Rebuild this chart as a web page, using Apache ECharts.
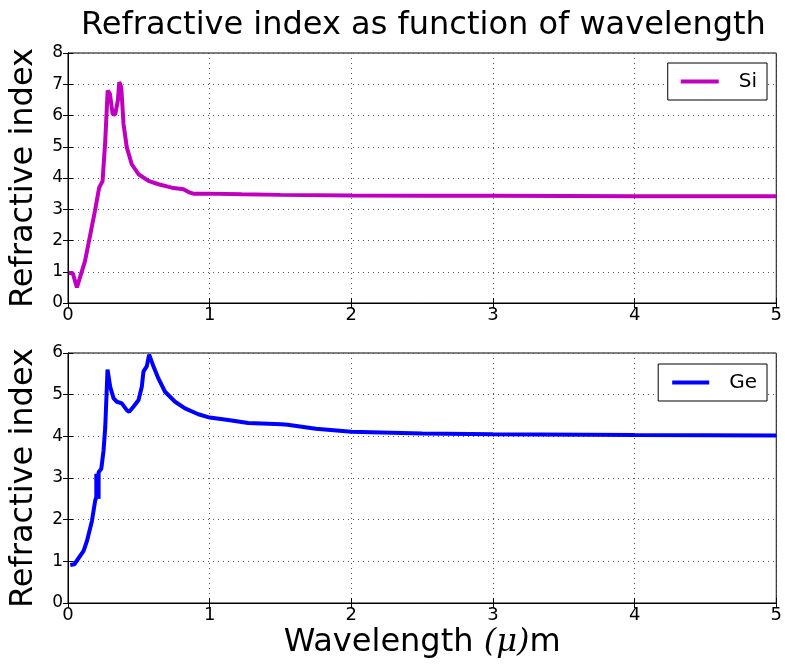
<!DOCTYPE html>
<html><head><meta charset="utf-8">
<script src="https://cdn.jsdelivr.net/npm/echarts@6/dist/echarts.min.js"></script>
<style>html,body{margin:0;padding:0;background:#fff}#c{width:785px;height:668px}</style>
</head><body><div id="c"></div>
<script>
const titleText = 'Refractive index as function of wavelength';
const xTicks = [0,1,2,3,4,5];
const siWavelength = [0.005,0.033,0.063,0.12,0.19,0.22,0.244,0.263,0.28,0.296,0.315,0.333,0.352,0.362,0.376,0.392,0.415,0.45,0.498,0.568,0.638,0.732,0.815,0.861,0.885,0.99,1.225,1.5,2,2.5,3,4,5];
const siIndex =      [0.96,0.96,0.5,1.34,2.94,3.69,3.9,5.19,6.8,6.69,6.05,6.03,6.48,7.07,6.9,5.73,4.98,4.44,4.12,3.91,3.8,3.69,3.64,3.53,3.5,3.5,3.48,3.46,3.44,3.43,3.43,3.42,3.42];
const geWavelength = [0.016,0.045,0.11,0.134,0.169,0.192,0.2,0.2,0.216,0.216,0.235,0.251,0.263,0.279,0.298,0.322,0.345,0.38,0.415,0.432,0.462,0.498,0.521,0.533,0.556,0.573,0.587,0.603,0.638,0.685,0.756,0.826,0.92,1.0,1.131,1.272,1.507,1.55,1.75,2,2.5,3,4,5];
const geIndex =      [0.91,0.93,1.25,1.49,1.97,2.46,2.54,3.1,2.5,3.14,3.22,3.66,4.23,5.6,5.19,4.91,4.83,4.79,4.63,4.59,4.71,4.87,5.19,5.56,5.68,5.96,5.96,5.68,5.39,5.07,4.83,4.67,4.53,4.45,4.39,4.32,4.29,4.28,4.18,4.11,4.07,4.05,4.03,4.02];
const siName = 'Si', geName = 'Ge';

const zip = (a,b) => a.map((v,i)=>[v,b[i]]);
const FONT = 'DejaVu Sans';
const grids = [
  {left:65, right:6, top:53, height:250, show:true, borderColor:'#000', borderWidth:1},
  {left:65, right:6, top:353, height:250, show:true, borderColor:'#000', borderWidth:1}
];
function xAx(gi, showLabel, pos){
  return {type:'value', gridIndex:gi, min:0, max:5, interval:1, position:pos,
    axisLine:{show:true, lineStyle:{color:'#000'}},
    axisTick:{show:true, inside:true, length:5, lineStyle:{color:'#000'}},
    axisLabel:{show:showLabel, color:'#000', fontSize:18, fontFamily:FONT, margin:3},
    splitLine:{show:pos==='bottom', lineStyle:{color:'#555', type:[1,4], width:1}},
    name: (gi===1 && pos==='bottom') ? '{a|Wavelength }{b|(μ)}{a|m}' : '',
    nameLocation:'middle', nameGap:24,
    nameTextStyle:{rich:{a:{fontSize:32, fontFamily:FONT, color:'#000'}, b:{fontSize:32, fontFamily:'DejaVu Serif', fontStyle:'italic', color:'#000'}}}
  };
}
function yAx(gi, max, showLabel, pos){
  return {type:'value', gridIndex:gi, min:0, max:max, interval:1, position:pos,
    axisLine:{show:true, lineStyle:{color:'#000'}},
    axisTick:{show:true, inside:true, length:5, lineStyle:{color:'#000'}},
    axisLabel:{show:showLabel, color:'#000', fontSize:17, fontFamily:FONT, margin:5},
    splitLine:{show:pos==='left', lineStyle:{color:'#555', type:[1,4], width:1}},
    name: pos==='left' ? 'Refractive index' : '', nameLocation:'middle', nameGap:28,
    nameTextStyle:{fontSize:32, fontFamily:FONT, color:'#000'}
  };
}
const chart = echarts.init(document.getElementById('c'));
chart.setOption({
  animation:false,
  backgroundColor:'#fff',
  title:{text:titleText, left:76, top:5, textStyle:{fontSize:32, fontWeight:'normal', fontFamily:FONT, color:'#000'}},
  grid:grids,
  xAxis:[xAx(0,true,'bottom'), xAx(0,false,'top'), xAx(1,true,'bottom'), xAx(1,false,'top')],
  yAxis:[yAx(0,8,true,'left'), yAx(0,8,false,'right'), yAx(1,6,true,'left'), yAx(1,6,false,'right')],
  legend:[
    {data:[siName], right:18, top:63, orient:'vertical', icon:'rect', itemWidth:38, itemHeight:4, itemGap:0,
     borderColor:'#000', borderWidth:1, borderRadius:0, padding:[7,10,7,13], backgroundColor:'#fff',
     textStyle:{fontSize:20, fontFamily:FONT, color:'#000', lineHeight:23, padding:[0,0,0,15]}},
    {data:[geName], right:18, top:364, orient:'vertical', icon:'rect', itemWidth:37, itemHeight:4, itemGap:0,
     borderColor:'#000', borderWidth:1, borderRadius:0, padding:[7,10,7,14], backgroundColor:'#fff',
     textStyle:{fontSize:20, fontFamily:FONT, color:'#000', lineHeight:23, padding:[0,0,0,15]}}
  ],
  series:[
    {name:siName, type:'line', xAxisIndex:0, yAxisIndex:0, data:zip(siWavelength, siIndex), showSymbol:false, symbol:'none',
     lineStyle:{color:'#bf00bf', width:4}, itemStyle:{color:'#bf00bf'}},
    {name:geName, type:'line', xAxisIndex:2, yAxisIndex:2, data:zip(geWavelength, geIndex), showSymbol:false, symbol:'none',
     lineStyle:{color:'#0000ff', width:4}, itemStyle:{color:'#0000ff'}}
  ]
});
</script></body></html>
